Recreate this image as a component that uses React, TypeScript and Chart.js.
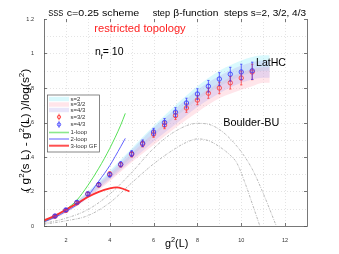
import React, { useEffect, useRef } from "react";
import { Chart, registerables } from "chart.js";
Chart.register(...registerables);

// ---- data ----
const xPts = [1.5, 2, 2.5, 3, 3.5, 4, 4.5, 5, 5.5, 6, 6.5, 7, 7.5, 8, 8.5, 9, 9.5, 10, 10.5];
const blueVals = [0.058, 0.093, 0.137, 0.186, 0.24, 0.297, 0.358, 0.42, 0.48, 0.545, 0.6, 0.66, 0.713, 0.765, 0.81, 0.852, 0.88, 0.893, 0.9];
const blueErr = [0.008, 0.009, 0.01, 0.011, 0.012, 0.013, 0.015, 0.017, 0.019, 0.021, 0.023, 0.026, 0.028, 0.031, 0.034, 0.037, 0.04, 0.045, 0.05];
const redVals = [0.056, 0.09, 0.134, 0.185, 0.238, 0.302, 0.355, 0.415, 0.475, 0.533, 0.585, 0.64, 0.684, 0.73, 0.77, 0.8, 0.83, 0.858, 0.893];
const redErr = [0.007, 0.008, 0.009, 0.01, 0.011, 0.012, 0.013, 0.015, 0.017, 0.019, 0.021, 0.023, 0.025, 0.027, 0.03, 0.033, 0.036, 0.04, 0.045];

const bandX = [1, 2, 3, 4, 5, 6, 7, 8, 9, 10, 10.5, 11, 11.3];
const cyanUp = [0.03, 0.1, 0.2, 0.32, 0.45, 0.58, 0.7, 0.81, 0.9, 0.96, 0.98, 0.99, 0.99];
const cyanLo = [0.02, 0.085, 0.175, 0.28, 0.4, 0.52, 0.63, 0.73, 0.81, 0.87, 0.89, 0.9, 0.9];
const lavUp = [0.028, 0.098, 0.195, 0.31, 0.44, 0.57, 0.68, 0.79, 0.87, 0.93, 0.95, 0.96, 0.96];
const lavLo = [0.018, 0.08, 0.165, 0.27, 0.38, 0.49, 0.59, 0.69, 0.77, 0.83, 0.85, 0.86, 0.86];
const pinkUp = [0.025, 0.09, 0.185, 0.3, 0.42, 0.54, 0.65, 0.75, 0.83, 0.89, 0.91, 0.92, 0.92];
const pinkLo = [0.015, 0.075, 0.16, 0.26, 0.37, 0.47, 0.57, 0.66, 0.74, 0.79, 0.81, 0.83, 0.83];

const loop1X = [1, 1.5, 2, 2.5, 3, 3.5, 4, 4.5, 4.71];
const loop1Y = [0.025, 0.055, 0.095, 0.15, 0.235, 0.335, 0.45, 0.585, 0.653];
const loop2X = [1, 1.5, 2, 2.5, 3, 3.5, 4, 4.5, 4.71];
const loop2Y = [0.025, 0.05, 0.085, 0.122, 0.175, 0.26, 0.35, 0.46, 0.508];
const loop3X = [1, 1.5, 2, 2.5, 3, 3.5, 4, 4.3, 4.6, 4.9];
const loop3Y = [0.032, 0.06, 0.095, 0.13, 0.168, 0.198, 0.218, 0.224, 0.216, 0.2];

const bbuAX = [1, 2, 3, 4, 5, 6, 7, 8, 8.5, 9, 9.5, 10, 10.5, 11, 11.6];
const bbuAY = [0.015, 0.045, 0.095, 0.185, 0.31, 0.45, 0.55, 0.595, 0.59, 0.56, 0.505, 0.43, 0.33, 0.19, 0];
const bbuBX = [1, 2, 3, 4, 5, 6, 7, 7.5, 8, 8.5, 9, 9.5, 9.8, 10.2, 10.5, 10.85];
const bbuBY = [0.01, 0.03, 0.06, 0.135, 0.25, 0.36, 0.45, 0.485, 0.505, 0.495, 0.46, 0.41, 0.365, 0.24, 0.13, 0];

const xTickLabels = [2, 4, 6, 8, 10, 12];
const yTickLabels = [0, 0.2, 0.4, 0.6, 0.8, 1, 1.2];
const gridXs = [2, 3, 4, 5, 6, 7, 8, 9, 10, 11, 12];
const gridYs = [0.1, 0.2, 0.3, 0.4, 0.5, 0.6, 0.7, 0.8, 0.9, 1.0, 1.1];

const legendLabels = ["s=2", "s=3/2", "s=4/3", "s=3/2", "s=4/3", "1-loop", "2-loop", "3-loop GF"];

const FAM = "'Liberation Sans', Arial, Helvetica, sans-serif";
const C_CYAN = "rgba(160,240,250,0.4)";
const C_PINK = "rgba(255,170,185,0.3)";
const C_LAV = "rgba(180,170,240,0.3)";
const C_BLUE = "#3030ff";
const C_RED = "#ff3030";
const C_GREEN = "#44dd44";
const C_BLUELINE = "#5050ff";

const pts = (xs: number[], ys: number[]) => xs.map((x, i) => ({ x, y: ys[i] }));

type Seg = { t: string; sup?: boolean; sub?: boolean };
function drawRich(ctx: CanvasRenderingContext2D, segs: Seg[], x: number, y: number, size: number, color: string, target?: number) {
  const fontFor = (s: Seg) => `${s.sup || s.sub ? size * 0.68 : size}px ${FAM}`;
  const widths = segs.map((s) => {
    ctx.font = fontFor(s);
    return ctx.measureText(s.t).width;
  });
  const total = widths.reduce((a, b) => a + b, 0);
  const sx = target ? target / total : 1;
  ctx.save();
  ctx.translate(x, y);
  ctx.scale(sx, 1);
  ctx.fillStyle = color;
  ctx.textBaseline = "alphabetic";
  ctx.textAlign = "left";
  let cx = 0;
  segs.forEach((s, i) => {
    ctx.font = fontFor(s);
    ctx.fillText(s.t, cx, s.sup ? -size * 0.4 : s.sub ? size * 0.35 : 0);
    cx += widths[i];
  });
  ctx.restore();
}

const decorPlugin = {
  id: "decor",
  beforeDatasetsDraw(chart: any) {
    const { ctx, chartArea: a, scales } = chart;
    const sx = scales.x, sy = scales.y;
    ctx.save();
    ctx.strokeStyle = "#d2d2d2";
    ctx.lineWidth = 0.6;
    ctx.setLineDash([1, 2]);
    gridXs.forEach((v) => {
      const px = Math.round(sx.getPixelForValue(v)) + 0.5;
      ctx.beginPath();
      ctx.moveTo(px, a.top);
      ctx.lineTo(px, a.bottom);
      ctx.stroke();
    });
    gridYs.forEach((v) => {
      const py = Math.round(sy.getPixelForValue(v)) + 0.5;
      ctx.beginPath();
      ctx.moveTo(a.left, py);
      ctx.lineTo(a.right, py);
      ctx.stroke();
    });
    ctx.restore();
  },
  afterDatasetsDraw(chart: any) {
    const { ctx, chartArea: a, scales } = chart;
    const sx = scales.x, sy = scales.y;
    const drawErr = (vals: number[], errs: number[], color: string) => {
      ctx.save();
      ctx.strokeStyle = color;
      ctx.lineWidth = 0.7;
      xPts.forEach((xv, i) => {
        const px = sx.getPixelForValue(xv);
        const p1 = sy.getPixelForValue(vals[i] + errs[i]);
        const p2 = sy.getPixelForValue(vals[i] - errs[i]);
        ctx.beginPath();
        ctx.moveTo(px, p1);
        ctx.lineTo(px, p2);
        ctx.moveTo(px - 1.2, p1);
        ctx.lineTo(px + 1.2, p1);
        ctx.moveTo(px - 1.2, p2);
        ctx.lineTo(px + 1.2, p2);
        ctx.stroke();
      });
      ctx.restore();
    };
    drawErr(redVals, redErr, C_RED);
    drawErr(blueVals, blueErr, C_BLUE);

    ctx.save();
    ctx.strokeStyle = "#555";
    ctx.lineWidth = 0.8;
    ctx.beginPath();
    ctx.moveTo(a.left + 0.5, a.top);
    ctx.lineTo(a.left + 0.5, a.bottom + 0.5);
    ctx.lineTo(a.right + 0.5, a.bottom + 0.5);
    ctx.lineTo(a.right + 0.5, a.top);
    ctx.stroke();
    xTickLabels.forEach((v) => {
      const px = Math.round(sx.getPixelForValue(v)) + 0.5;
      ctx.beginPath();
      ctx.moveTo(px, a.bottom);
      ctx.lineTo(px, a.bottom - 3);
      ctx.moveTo(px, a.top);
      ctx.lineTo(px, a.top + 3);
      ctx.stroke();
    });
    yTickLabels.forEach((v) => {
      const py = Math.round(sy.getPixelForValue(v)) + 0.5;
      ctx.beginPath();
      ctx.moveTo(a.left, py);
      ctx.lineTo(a.left + 3, py);
      ctx.moveTo(a.right, py);
      ctx.lineTo(a.right - 3, py);
      ctx.stroke();
    });
    ctx.restore();

    ctx.save();
    const lx0 = 47, ly0 = 94.5, lx1 = 99, ly1 = 151.5;
    ctx.fillStyle = "#fff";
    ctx.fillRect(lx0, ly0, lx1 - lx0, ly1 - ly0);
    ctx.strokeStyle = "#555";
    ctx.lineWidth = 0.7;
    ctx.strokeRect(lx0 + 0.5, ly0 + 0.5, lx1 - lx0, ly1 - ly0);
    const rows = [99, 104.5, 110, 117, 124.5, 132.5, 139, 145.7];
    const patches = [C_CYAN, C_PINK, C_LAV];
    rows.forEach((ry, i) => {
      if (i < 3) {
        ctx.fillStyle = patches[i];
        ctx.fillRect(49, ry - 2.2, 20, 4.4);
      } else if (i < 5) {
        const col = i === 3 ? C_RED : C_BLUE;
        ctx.strokeStyle = col;
        ctx.lineWidth = 0.8;
        ctx.beginPath();
        ctx.arc(59, ry, 1.7, 0, Math.PI * 2);
        ctx.moveTo(59, ry - 3.3);
        ctx.lineTo(59, ry + 3.3);
        ctx.stroke();
      } else {
        const col = i === 5 ? "#8be88b" : i === 6 ? "#9a9aff" : "#ff5050";
        ctx.strokeStyle = col;
        ctx.lineWidth = i === 7 ? 2 : 1.6;
        ctx.beginPath();
        ctx.moveTo(49, ry);
        ctx.lineTo(69, ry);
        ctx.stroke();
      }
      ctx.fillStyle = "#333";
      ctx.font = `6px ${FAM}`;
      ctx.textBaseline = "middle";
      ctx.textAlign = "left";
      ctx.fillText(legendLabels[i], 70.5, ry + 0.3);
    });
    ctx.restore();
  },
  afterDraw(chart: any) {
    const { ctx } = chart;
    ctx.save();
    drawRich(ctx, [{ t: "SSS" }], 48.3, 15.5, 9.5, "#000", 15);
    drawRich(ctx, [{ t: "c=0.25 scheme" }], 66.7, 15.5, 9.5, "#000", 72.6);
    drawRich(ctx, [{ t: "step" }], 152.7, 15.5, 9.5, "#000", 17.3);
    drawRich(ctx, [{ t: "β-function" }], 173.3, 15.5, 9.5, "#000", 45);
    drawRich(ctx, [{ t: "steps s=2, 3/2, 4/3" }], 224, 15.5, 9.5, "#000", 82);
    drawRich(ctx, [{ t: "restricted topology" }], 94.3, 31.7, 10.5, "#ff2020", 91.4);
    drawRich(ctx, [{ t: "n" }, { t: "f", sub: true }, { t: "= 10" }], 95, 55, 11, "#000", 28.5);
    drawRich(ctx, [{ t: "LatHC" }], 256, 66, 10.5, "#000", 30);
    drawRich(ctx, [{ t: "Boulder-BU" }], 223.3, 126, 10.5, "#000", 56);
    drawRich(ctx, [{ t: "g" }, { t: "2", sup: true }, { t: "(L)" }], 165, 246.5, 11.5, "#000", 23.3);
    ctx.save();
    ctx.translate(28.8, 191.7);
    ctx.rotate(-Math.PI / 2);
    drawRich(
      ctx,
      [
        { t: "( g" }, { t: "2", sup: true }, { t: "(s L) - g" }, { t: "2", sup: true },
        { t: "(L) )/log(s" }, { t: "2", sup: true }, { t: ")" },
      ],
      0, 0, 11.5, "#000", 123
    );
    ctx.restore();
    ctx.restore();
  },
};

export default function App() {
  const ref = useRef<HTMLCanvasElement | null>(null);
  useEffect(() => {
    document.body.style.margin = "0";
    const canvas = ref.current!;
    const lineDs = (label: string, xs: number[], ys: number[], color: string, width: number, order: number, dash?: number[]) => ({
      label,
      data: pts(xs, ys),
      borderColor: color,
      borderWidth: width,
      borderDash: dash || [],
      pointRadius: 0,
      fill: false,
      cubicInterpolationMode: "monotone",
      order,
    });
    const bandDs = (label: string, xs: number[], ys: number[], color: string, fill: any, order: number) => ({
      label,
      data: pts(xs, ys),
      borderWidth: 0,
      borderColor: "rgba(0,0,0,0)",
      backgroundColor: color,
      pointRadius: 0,
      fill,
      cubicInterpolationMode: "monotone",
      order,
    });
    const ptDs = (label: string, ys: number[], color: string, order: number) => ({
      label,
      data: pts(xPts, ys),
      showLine: false,
      pointRadius: 2.2,
      pointBorderWidth: 0.8,
      pointBorderColor: color,
      pointBackgroundColor: "rgba(0,0,0,0)",
      borderColor: color,
      order,
    });
    const chart = new Chart(canvas, {
      type: "line",
      data: {
        datasets: [
          ptDs("s=4/3", blueVals, C_BLUE, 0),
          ptDs("s=3/2", redVals, C_RED, 1),
          lineDs("3-loop GF", loop3X, loop3Y, C_RED, 1.8, 2),
          lineDs("2-loop", loop2X, loop2Y, C_BLUELINE, 0.9, 3),
          lineDs("1-loop", loop1X, loop1Y, C_GREEN, 0.9, 4),
          lineDs("Boulder-BU A", bbuAX, bbuAY, "#8a8a8a", 0.6, 5, [2.5, 1.2, 0.8, 1.2]),
          lineDs("Boulder-BU B", bbuBX, bbuBY, "#8a8a8a", 0.6, 6, [2.5, 1.2, 0.8, 1.2]),
          bandDs("s=4/3 up", bandX, lavUp, C_LAV, "+1", 7),
          bandDs("s=4/3 lo", bandX, lavLo, C_LAV, false, 8),
          bandDs("s=3/2 up", bandX, pinkUp, C_PINK, "+1", 9),
          bandDs("s=3/2 lo", bandX, pinkLo, C_PINK, false, 10),
          bandDs("s=2 up", bandX, cyanUp, C_CYAN, "+1", 11),
          bandDs("s=2 lo", bandX, cyanLo, C_CYAN, false, 12),
        ] as any,
      },
      options: {
        animation: false,
        responsive: false,
        devicePixelRatio: 1,
        layout: { padding: { top: 19, right: 32, left: 0, bottom: 0 } },
        plugins: { legend: { display: false }, tooltip: { enabled: false }, title: { display: false } },
        scales: {
          x: {
            type: "linear",
            min: 1,
            max: 13,
            afterBuildTicks: (s: any) => {
              s.ticks = xTickLabels.map((v) => ({ value: v }));
            },
            ticks: {
              font: { size: 5.5, family: FAM },
              color: "#333",
              padding: 3,
              maxRotation: 0,
              autoSkip: false,
              callback: (v: any) => String(v),
            },
            grid: { display: false },
            border: { display: false },
            afterFit: (s: any) => {
              s.height = 28;
            },
          },
          y: {
            type: "linear",
            min: 0,
            max: 1.2,
            afterBuildTicks: (s: any) => {
              s.ticks = yTickLabels.map((v) => ({ value: v }));
            },
            ticks: {
              font: { size: 5.5, family: FAM },
              color: "#333",
              padding: 2,
              autoSkip: false,
              callback: (v: any) => String(Number(Number(v).toFixed(1))),
            },
            grid: { display: false },
            border: { display: false },
            afterFit: (s: any) => {
              s.width = 44;
            },
          },
        },
      } as any,
      plugins: [decorPlugin],
    });
    return () => chart.destroy();
  }, []);
  return (
    <div style={{ width: 339, height: 254, background: "#fff" }}>
      <canvas ref={ref} width={339} height={254} style={{ display: "block", width: 339, height: 254 }} />
    </div>
  );
}
